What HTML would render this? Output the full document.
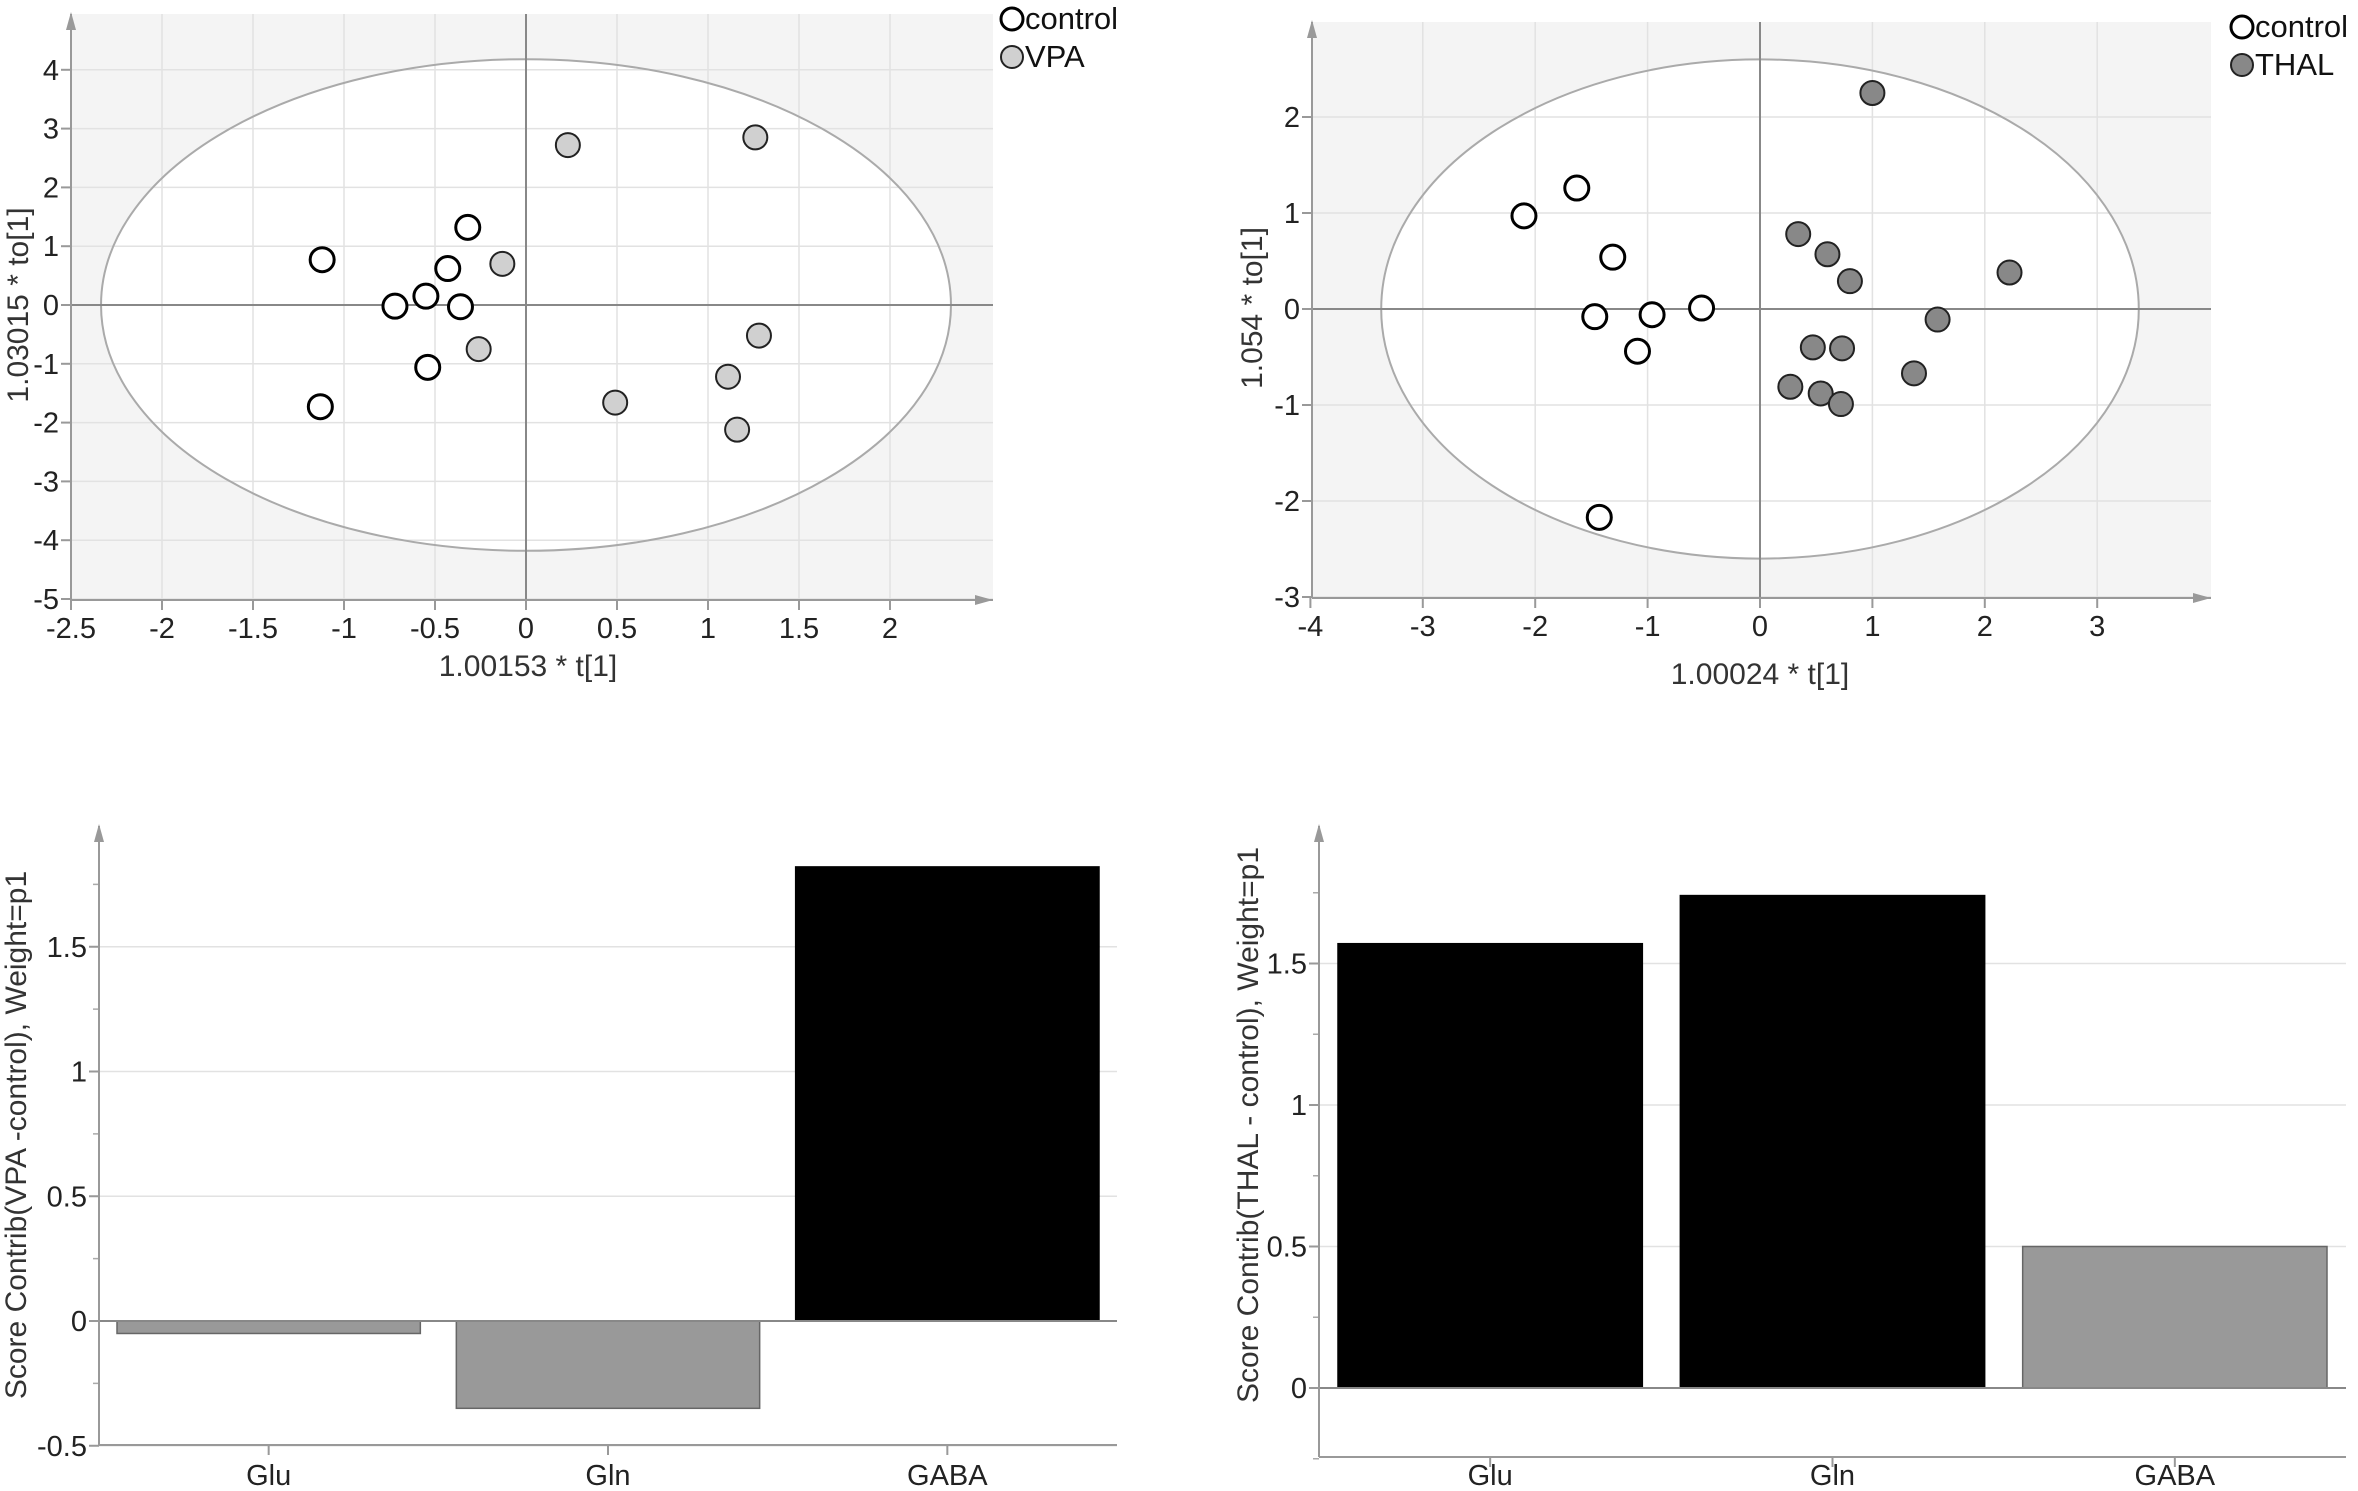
<!DOCTYPE html>
<html><head><meta charset="utf-8">
<style>
html,body{margin:0;padding:0;background:#fff;}
svg{display:block;font-family:"Liberation Sans",Arial,sans-serif;}
</style></head>
<body>
<svg id="fig" width="2358" height="1491" viewBox="0 0 2358 1491" xmlns="http://www.w3.org/2000/svg"></svg>
<script>
// ---- Data: VPA score plot ----
const vpaCtrlX = [-1.12,-0.32,-0.43,-0.55,-0.72,-0.36,-0.54,-1.13];
const vpaCtrlY = [0.77,1.32,0.62,0.15,-0.02,-0.03,-1.06,-1.73];
const vpaX = [0.23,1.26,-0.13,-0.26,1.28,1.11,0.49,1.16];
const vpaY = [2.72,2.85,0.70,-0.75,-0.52,-1.22,-1.66,-2.12];
const vpaXTicks = [-2.5,-2,-1.5,-1,-0.5,0,0.5,1,1.5,2];
const vpaYTicks = [4,3,2,1,0,-1,-2,-3,-4,-5];
// ---- Data: THAL score plot ----
const thCtrlX = [-2.10,-1.63,-1.31,-1.47,-0.96,-0.52,-1.09,-1.43];
const thCtrlY = [0.97,1.26,0.54,-0.08,-0.06,0.01,-0.44,-2.17];
const thX = [1.00,0.34,0.60,0.80,2.22,1.58,0.47,0.73,1.37,0.27,0.54,0.72];
const thY = [2.25,0.78,0.57,0.29,0.38,-0.11,-0.40,-0.41,-0.67,-0.81,-0.88,-0.99];
const thXTicks = [-4,-3,-2,-1,0,1,2,3];
const thYTicks = [2,1,0,-1,-2,-3];
// ---- Data: contribution bars ----
const barCats = ["Glu","Gln","GABA"];
const vpaBarVals = [-0.05,-0.35,1.82];
const thBarVals = [1.57,1.74,0.50];
const vpaBarTicks = [1.5,1,0.5,0,-0.5];
const thBarTicks = [1.5,1,0.5,0];

const svg = document.getElementById('fig');
const NS = 'http://www.w3.org/2000/svg';
function el(tag, attrs, parent, text){
  const e = document.createElementNS(NS, tag);
  for (const k in attrs) e.setAttribute(k, attrs[k]);
  if (text !== undefined) e.textContent = text;
  (parent||svg).appendChild(e);
  return e;
}
function arrowUp(x,y,g){ el('polygon',{points:`${x-5},${y+18} ${x+5},${y+18} ${x},${y}`,fill:'#999'},g); }
function arrowRight(x,y,g){ el('polygon',{points:`${x-18},${y-5} ${x-18},${y+5} ${x},${y}`,fill:'#999'},g); }
const TF = 29, TT = 30;

function scatter(o){
  const g = el('g',{});
  
  
  const sx = v => o.x0 + v*o.ux, sy = v => o.y0 - v*o.uy;
  el('rect',{x:o.left,y:o.top,width:o.right-o.left,height:o.bottom-o.top,fill:'#f4f4f4'},g);
  el('ellipse',{cx:sx(0),cy:sy(0),rx:o.erx*o.ux,ry:o.ery*o.uy,fill:'#fff',stroke:'none'},g);
  o.gx.forEach(v=>el('line',{x1:sx(v),x2:sx(v),y1:o.top,y2:o.bottom,stroke:'#e2e2e2','stroke-width':1.5},g));
  o.yTicks.forEach(v=>{ if(v!==0) el('line',{x1:o.left,x2:o.right,y1:sy(v),y2:sy(v),stroke:'#e2e2e2','stroke-width':1.5},g); });
  el('ellipse',{cx:sx(0),cy:sy(0),rx:o.erx*o.ux,ry:o.ery*o.uy,fill:'none',stroke:'#aaa','stroke-width':2},g);
  el('line',{x1:sx(0),x2:sx(0),y1:o.top,y2:o.bottom,stroke:'#888','stroke-width':2},g);
  el('line',{x1:o.left,x2:o.right,y1:sy(0),y2:sy(0),stroke:'#888','stroke-width':2},g);
  el('line',{x1:o.left,x2:o.left,y1:o.top,y2:o.bottom,stroke:'#999','stroke-width':2},g);
  el('line',{x1:o.left,x2:o.right,y1:o.bottom,y2:o.bottom,stroke:'#999','stroke-width':2},g);
  arrowUp(o.left,o.top-2,g); arrowRight(o.right,o.bottom,g);
  o.xTicks.forEach(v=>{
    el('line',{x1:sx(v),x2:sx(v),y1:o.bottom,y2:o.bottom+10,stroke:'#999','stroke-width':2},g);
    const t = el('text',{x:sx(v),y:o.bottom+38,'text-anchor':'middle','font-size':TF,fill:'#222'},g,String(v));
     
  });
  o.yTicks.forEach(v=>{
    el('line',{x1:o.left-10,x2:o.left,y1:sy(v),y2:sy(v),stroke:'#999','stroke-width':2},g);
    const t = el('text',{x:o.left-12,y:sy(v)+10,'text-anchor':'end','font-size':TF,fill:'#222'},g,String(v));
     
  });
  const xt = el('text',{x:o.xtX,y:o.xtY,'text-anchor':'middle','font-size':TT,fill:'#333'},g,o.xTitle);
   
  const yt = el('text',{x:0,y:0,'text-anchor':'middle','font-size':TT,fill:'#333',transform:`translate(${o.ytX},${o.ytY}) rotate(-90)`},g,o.yTitle);
   
  o.cx.forEach((v,i)=>{
    const c = el('circle',{cx:sx(v),cy:sy(o.cy[i]),r:12,fill:'#fff',stroke:'#000','stroke-width':3},g);
     
  });
  o.tx.forEach((v,i)=>{
    const c = el('circle',{cx:sx(v),cy:sy(o.ty[i]),r:12,fill:o.fill,stroke:'#222','stroke-width':2},g);
     
  });
  const lg = el('g',{},g);
   
  el('circle',{cx:o.lx,cy:o.ly,r:11,fill:'#fff',stroke:'#000','stroke-width':3},lg);
  el('text',{x:o.lx+13,y:o.ly+10,'font-size':31,fill:'#111'},lg,'control');
  el('circle',{cx:o.lx,cy:o.ly+38,r:11,fill:o.fill,stroke:'#222','stroke-width':2},lg);
  el('text',{x:o.lx+13,y:o.ly+48,'font-size':31,fill:'#111'},lg,o.grp);
}

scatter({name:'vpa-score-plot',left:71,right:993,top:14,bottom:600,x0:526,ux:182,y0:305,uy:58.8,
  erx:2.335,ery:4.18,gx:[-2,-1.5,-1,-0.5,0.5,1,1.5,2],xTicks:vpaXTicks,yTicks:vpaYTicks,
  xTitle:'1.00153 * t[1]',xtX:528,xtY:676,yTitle:'1.03015 * to[1]',ytX:28,ytY:305,
  cx:vpaCtrlX,cy:vpaCtrlY,tx:vpaX,ty:vpaY,fill:'#d0d0d0',grp:'VPA',lx:1012,ly:19});
scatter({name:'thal-score-plot',left:1312,right:2211,top:22,bottom:598,x0:1760,ux:112.4,y0:309,uy:96,
  erx:3.37,ery:2.6,gx:[-3,-2,-1,1,2,3],xTicks:thXTicks,yTicks:thYTicks,
  xTitle:'1.00024 * t[1]',xtX:1760,xtY:684,yTitle:'1.054 * to[1]',ytX:1262,ytY:308,
  cx:thCtrlX,cy:thCtrlY,tx:thX,ty:thY,fill:'#888',grp:'THAL',lx:2242,ly:27});

function bars(o){
  const g = el('g',{});
  
  
  const sy = v => o.y0 - v*o.uy;
  const bw = (o.right-o.left)/barCats.length;
  o.yTicks.forEach(v=>{ if(v!==0) el('line',{x1:o.left,x2:o.right,y1:sy(v),y2:sy(v),stroke:'#e2e2e2','stroke-width':1.5},g); });
  for(let v=o.minY; v<=o.maxY+1e-9; v+=0.25){
    el('line',{x1:o.left-6,x2:o.left,y1:sy(v),y2:sy(v),stroke:'#aaa','stroke-width':1.5},g);
  }
  o.vals.forEach((v,i)=>{
    const x = o.left + i*bw + o.gap;
    const y = Math.min(sy(v),sy(0)), h = Math.abs(sy(v)-sy(0));
    const col = v>=o.thr ? '#000' : '#999';
    const r = el('rect',{x:x,y:y,width:bw-2*o.gap,height:h,fill:col,stroke:v>=o.thr?'#000':'#666','stroke-width':1.5},g);
     
    const cxm = o.left + (i+0.5)*bw;
    el('line',{x1:cxm,x2:cxm,y1:o.bottom,y2:o.bottom+10,stroke:'#999','stroke-width':2},g);
    const t = el('text',{x:cxm,y:1485,'text-anchor':'middle','font-size':TF,fill:'#222'},g,barCats[i]);
     
  });
  el('line',{x1:o.left,x2:o.right,y1:sy(0),y2:sy(0),stroke:'#888','stroke-width':2},g);
  el('line',{x1:o.left,x2:o.left,y1:o.top,y2:o.bottom,stroke:'#999','stroke-width':2},g);
  el('line',{x1:o.left,x2:o.right,y1:o.bottom,y2:o.bottom,stroke:'#999','stroke-width':2},g);
  arrowUp(o.left,o.top-2,g);
  o.yTicks.forEach(v=>{
    el('line',{x1:o.left-10,x2:o.left,y1:sy(v),y2:sy(v),stroke:'#999','stroke-width':2},g);
    const t = el('text',{x:o.left-12,y:sy(v)+10,'text-anchor':'end','font-size':TF,fill:'#222'},g,String(v));
     
  });
  const yt = el('text',{x:0,y:0,'text-anchor':'middle','font-size':TT,fill:'#333',transform:`translate(${o.ytX},${o.ytY}) rotate(-90)`},g,o.yTitle);
   
}
bars({name:'vpa-contribution-chart',left:99,right:1117,top:826,bottom:1445,y0:1321,uy:249.5,vals:vpaBarVals,
  yTicks:vpaBarTicks,minY:-0.5,maxY:1.75,gap:18,thr:0,yTitle:'Score Contrib(VPA -control), Weight=p1',ytX:26,ytY:1135});
bars({name:'thal-contribution-chart',left:1319,right:2346,top:826,bottom:1457,y0:1388,uy:283,vals:thBarVals,
  yTicks:thBarTicks,minY:-0.25,maxY:1.75,gap:19,thr:1,yTitle:'Score Contrib(THAL - control), Weight=p1',ytX:1258,ytY:1125});
</script>
</body></html>
